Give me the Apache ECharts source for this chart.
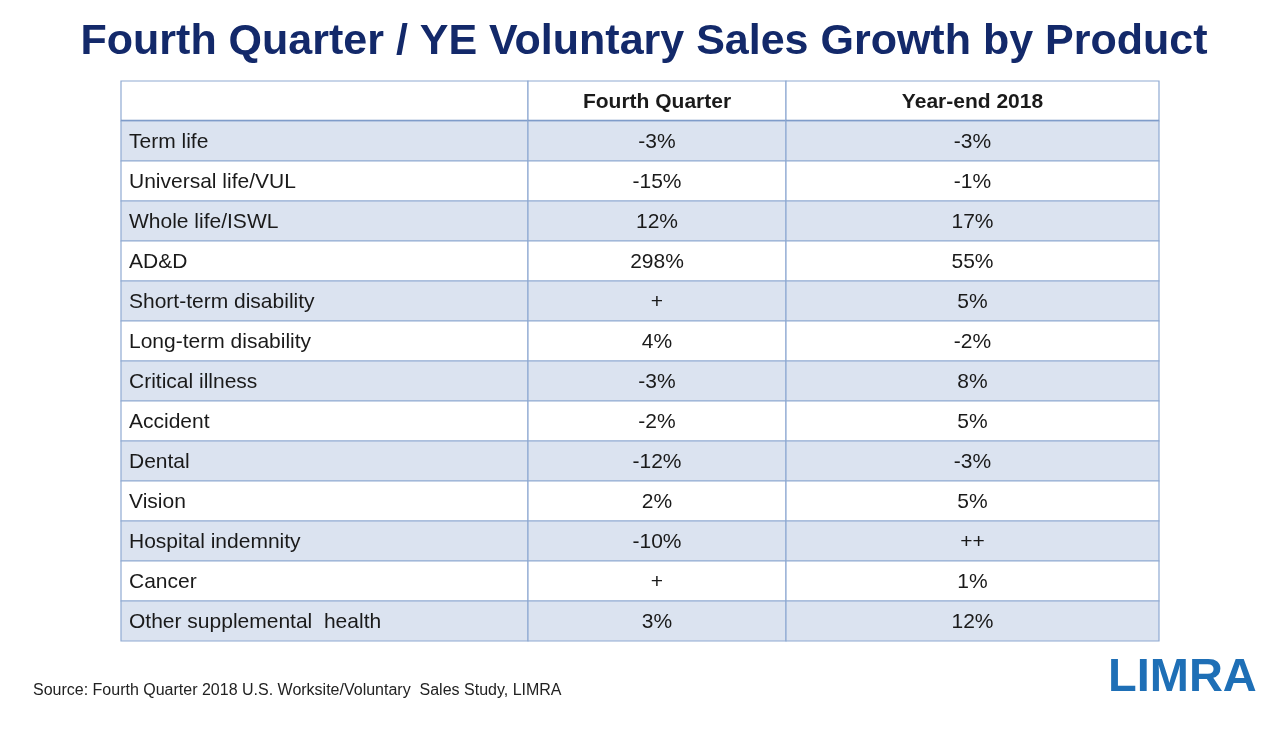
<!DOCTYPE html>
<html><head><meta charset="utf-8">
<script src="https://cdn.jsdelivr.net/npm/echarts@6/dist/echarts.min.js"></script>
<style>html,body{margin:0;padding:0;background:#fff}#c{width:1288px;height:730px}</style>
</head><body><div id="c"></div>
<script>
var title = 'Fourth Quarter / YE Voluntary Sales Growth by Product';
var columns = ['', 'Fourth Quarter', 'Year-end 2018'];
var products = ['Term life','Universal life/VUL','Whole life/ISWL','AD&D','Short-term disability','Long-term disability','Critical illness','Accident','Dental','Vision','Hospital indemnity','Cancer','Other supplemental  health'];
var fourthQuarter = ['-3%','-15%','12%','298%','+','4%','-3%','-2%','-12%','2%','-10%','+','3%'];
var yearEnd2018 = ['-3%','-1%','17%','55%','5%','-2%','8%','5%','-3%','5%','++','1%','12%'];
var source = 'Source: Fourth Quarter 2018 U.S. Worksite/Voluntary  Sales Study, LIMRA';

var FONT = '"Liberation Sans", Arial, sans-serif';
var rowKeys = ['header'].concat(products);
var colLayout = [{left:121,width:407},{left:528,width:258},{left:786,width:373}];
var colValues = [products, fourthQuarter, yearEnd2018];
var BAND = '#dbe3f0', LINE = '#8faad2';

var grids = [], xAxes = [], yAxes = [], series = [];
colLayout.forEach(function(c, ci){
  grids.push({left:c.left, width:c.width, top:81, height:560, containLabel:false});
  xAxes.push({type:'value', gridIndex:ci, min:0, max:1, show:false});
  yAxes.push({type:'category', gridIndex:ci, data:rowKeys, inverse:true, show:false});
  var data = [[0, 'header', columns[ci], 1]];
  colValues[ci].forEach(function(v, ri){ data.push([0, products[ri], v, ri]); });
  series.push({
    type:'custom', xAxisIndex:ci, yAxisIndex:ci, silent:true,
    data:data,
    encode:{x:0, y:1},
    renderItem:function(params, api){
      var p = api.coord([0, api.value(1)]);
      var h = api.size([0, 1])[1];
      var cs = params.coordSys;
      var x0 = cs.x, w = cs.width, y0 = p[1] - h/2;
      var isHeader = params.dataIndex === 0;
      var idx = api.value(3);
      var fill = (!isHeader && idx % 2 === 0) ? BAND : '#ffffff';
      var txt = data[params.dataIndex][2];
      var children = [
        {type:'rect', shape:{x:x0, y:y0, width:w, height:h}, style:{fill:fill, stroke:LINE, lineWidth:1.2}},
        {type:'text', style:{
          text:txt,
          x: ci === 0 ? x0 + 8 : x0 + w/2,
          y: p[1] + 1,
          align: ci === 0 ? 'left' : 'center',
          verticalAlign:'middle',
          fill:'#1a1a1a',
          font: (isHeader ? 'bold 21px ' : '21px ') + FONT
        }}
      ];
      if (isHeader) {
        children.push({type:'line', shape:{x1:x0, y1:y0+h, x2:x0+w, y2:y0+h}, style:{stroke:'#6f8fc0', lineWidth:2.5}});
      }
      return {type:'group', children:children};
    }
  });
});

var chart = echarts.init(document.getElementById('c'), null, {renderer:'canvas'});
chart.setOption({
  backgroundColor:'#ffffff',
  animation:false,
  title:{text:title, left:'center', top:16, textStyle:{fontFamily:'Liberation Sans', fontWeight:'bold', fontSize:43, color:'#13296a'}},
  grid:grids, xAxis:xAxes, yAxis:yAxes, series:series,
  graphic:[
    {type:'text', left:33, top:683, style:{text:source, font:'16px '+FONT, fill:'#222'}},
    {type:'text', left:1108, top:655, style:{text:'LIMRA', font:'900 47px "Liberation Sans", Arial, sans-serif', fill:'#1e6fb6'}}
  ]
});
</script></body></html>
